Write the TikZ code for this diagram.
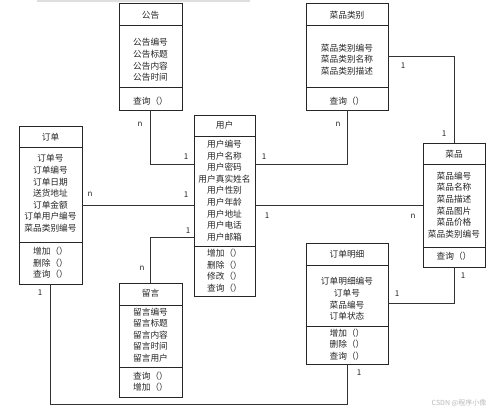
\documentclass[tikz,border=0pt]{standalone}
\usepackage{fontspec}
\newfontfamily\cjk{Noto Sans CJK SC}
\tikzset{
  cls/.style={draw=black!85, line width=0.9pt, inner sep=0pt, rectangle},
  divline/.style={draw=black!85, line width=0.9pt},
  txt/.style={font=\cjk\fontsize{8.7}{11.6}\selectfont, align=center, inner sep=0pt, text=black!85},
  lbl/.style={font=\cjk\fontsize{8}{9}\selectfont, inner sep=0pt, text=black!85},
  conn/.style={draw=black!80, line width=0.9pt},
}
\begin{document}
\begin{tikzpicture}[x=1pt,y=-1pt]
\useasboundingbox[fill=white] (0,0) rectangle (500,412);
\draw[gray!25, line width=1.5pt] (37,0.8) -- (250,0.8);

% 公告
\node[cls, minimum width=63pt, minimum height=107pt] (gg) at (150.5,56.5) {};
\draw[divline] (119,25) -- (182,25) (119,87) -- (182,87);
\node[txt] (ggt) at (150.5,15) {公告};
\node[txt] (gga) at (150.5,60) {公告编号\\公告标题\\公告内容\\公告时间};
\node[txt] (ggm) at (150.5,101) {查询（）};

% 菜品类别
\node[cls, minimum width=82pt, minimum height=107pt] (lb) at (347,56.5) {};
\draw[divline] (306,25) -- (388,25) (306,87) -- (388,87);
\node[txt] (lbt) at (347,15) {菜品类别};
\node[txt] (lba) at (347,59.5) {菜品类别编号\\菜品类别名称\\菜品类别描述};
\node[txt] (lbm) at (347,101) {查询（）};

% 用户
\node[cls, minimum width=61pt, minimum height=181pt] (yh) at (224.5,205.5) {};
\draw[divline] (194,136) -- (255,136) (194,246) -- (255,246);
\node[txt] (yht) at (224.5,125) {用户};
\node[txt] (yha) at (224.5,190.5) {用户编号\\用户名称\\用户密码\\用户真实姓名\\用户性别\\用户年龄\\用户地址\\用户电话\\用户邮箱};
\node[txt] (yhm) at (224.5,270.5) {增加（）\\删除（）\\修改（）\\查询（）};

% 订单
\node[cls, minimum width=63pt, minimum height=158pt] (dd) at (50.5,205) {};
\draw[divline] (19,147) -- (82,147) (19,242) -- (82,242);
\node[txt] (ddt) at (50.5,137) {订单};
\node[txt] (dda) at (50.5,193.5) {订单号\\订单编号\\订单日期\\送货地址\\订单金额\\订单用户编号\\菜品类别编号};
\node[txt] (ddm) at (50.5,263) {增加（）\\删除（）\\查询（）};

% 菜品
\node[cls, minimum width=62pt, minimum height=124pt] (cp) at (454,205) {};
\draw[divline] (423,164) -- (485,164) (423,247) -- (485,247);
\node[txt] (cpt) at (454,154) {菜品};
\node[txt] (cpa) at (454,205) {菜品编号\\菜品名称\\菜品描述\\菜品图片\\菜品价格\\菜品类别编号};
\node[txt] (cpm) at (454,256.5) {查询（）};

% 订单明细
\node[cls, minimum width=82pt, minimum height=121pt] (mx) at (347,303.5) {};
\draw[divline] (306,265) -- (388,265) (306,326) -- (388,326);
\node[txt] (mxt) at (347,254) {订单明细};
\node[txt] (mxa) at (347,299) {订单明细编号\\订单号\\菜品编号\\订单状态};
\node[txt] (mxm) at (347,344.5) {增加（）\\删除（）\\查询（）};

% 留言
\node[cls, minimum width=63pt, minimum height=114pt] (ly) at (150.5,340) {};
\draw[divline] (119,305) -- (182,305) (119,367) -- (182,367);
\node[txt] (lyt) at (150.5,293.5) {留言};
\node[txt] (lya) at (150.5,335) {留言编号\\留言标题\\留言内容\\留言时间\\留言用户};
\node[txt] (lym) at (150.5,381.5) {查询（）\\增加（）};

% connectors
\draw[conn] (gg.south) |- ([yshift=41.5pt]yh.west);
\draw[conn] (dd.east) -- (dd.east -| yh.west);
\draw[conn] ([yshift=-31.5pt]yh.west) -| (ly.north);
\draw[conn] (lb.south) |- ([yshift=41.5pt]yh.east);
\draw[conn] (lb.east) -| (cp.north);
\draw[conn] (yh.east) -- (yh.east -| cp.west);
\draw[conn] (cp.south) |- (mx.east);
\draw[conn] (dd.south) |- ([yshift=-40pt]mx.south) -- (mx.south);

% multiplicities
\node[lbl] (l1) at (140,124.5) {n};
\node[lbl] (l2) at (186,157) {1};
\node[lbl] (l3) at (90,194.5) {n};
\node[lbl] (l4) at (186,194.5) {1};
\node[lbl] (l5) at (188,231) {1};
\node[lbl] (l6) at (142,268) {n};
\node[lbl] (l7) at (338,124.5) {n};
\node[lbl] (l8) at (264,157) {1};
\node[lbl] (l9) at (403,66) {1};
\node[lbl] (l10) at (444,134) {1};
\node[lbl] (l11) at (267,216) {1};
\node[lbl] (l12) at (413,216) {n};
\node[lbl] (l13) at (463,276) {1};
\node[lbl] (l14) at (397,294) {1};
\node[lbl] (l15) at (40,293) {1};
\node[lbl] (l16) at (359,373) {1};

\node[font=\cjk\fontsize{7}{8}\selectfont, text=gray!55, inner sep=0pt] (wm) at (459,403) {CSDN @程序小像};
\end{tikzpicture}
\end{document}
